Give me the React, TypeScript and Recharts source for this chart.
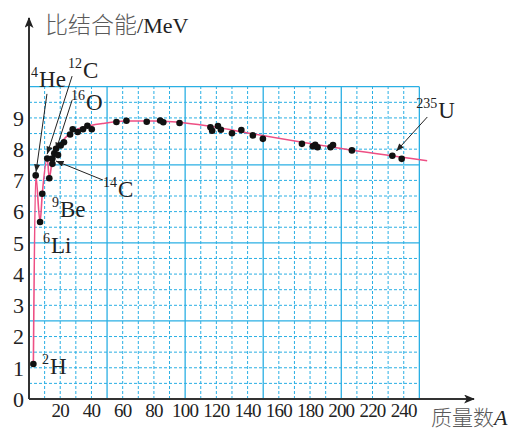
import React from "react";
import {
  ComposedChart,
  Line,
  Scatter,
  XAxis,
  YAxis,
  ReferenceLine,
  ReferenceDot,
} from "recharts";

// measured nuclei: mass number A, binding energy per nucleon (MeV)
const dotA = [
  2.8, 4.3, 7.1, 8.5, 11.7, 13.0, 15.0, 15.0, 16.2, 17.3, 18.6, 20.3, 22.4,
  26.3, 28.0, 31.2, 34.6, 37.4, 40.2, 56.0, 62.4, 75.4, 84.0, 86.0, 96.4,
  116.2, 117.3, 121.0, 122.9, 130.0, 136.0, 143.4, 149.8, 174.8, 181.8, 183.3,
  184.8, 193.1, 194.7, 206.8, 232.7, 238.7,
];
const dotE = [
  1.12, 7.16, 5.67, 6.57, 7.7, 7.07, 7.7, 7.53, 7.87, 8.01, 7.81, 8.12, 8.22,
  8.47, 8.64, 8.55, 8.64, 8.75, 8.64, 8.87, 8.91, 8.88, 8.92, 8.86, 8.84, 8.7,
  8.59, 8.74, 8.62, 8.51, 8.61, 8.44, 8.33, 8.17, 8.09, 8.14, 8.06, 8.06, 8.13,
  7.96, 7.79, 7.69,
];

// fitted curve
const curveA = [2.8, 4.3, 7.1, 8.5, 11.7, 13, 15, 17, 20, 26, 37, 47, 62, 80, 100, 120, 140, 200, 255];
const curveE = [1.12, 7.16, 5.67, 6.57, 7.7, 7.07, 7.7, 7.95, 8.17, 8.5, 8.73, 8.82, 8.9, 8.9, 8.84, 8.7, 8.52, 8.02, 7.63];

const xTicks = [20, 40, 60, 80, 100, 120, 140, 160, 180, 200, 220, 240];
const yTicks = [0, 1, 2, 3, 4, 5, 6, 7, 8, 9];

const gridX = Array.from({ length: 25 }, (_, i) => (i + 1) * 10);
const gridY = Array.from({ length: 20 }, (_, i) => (i + 1) * 0.5);

// nucleus labels: superscript, symbol, baseline-left anchor
const labels = [
  { sup: "4", sym: "He", a: 1.3, e: 10.0 },
  { sup: "12", sym: "C", a: 25, e: 10.28 },
  { sup: "16", sym: "O", a: 26.9, e: 9.25 },
  { sup: "14", sym: "C", a: 47.4, e: 6.47 },
  { sup: "9", sym: "Be", a: 14.7, e: 5.83 },
  { sup: "6", sym: "Li", a: 9, e: 4.67 },
  { sup: "2", sym: "H", a: 8.3, e: 0.8 },
  { sup: "235", sym: "U", a: 248, e: 9.0 },
];

const arrows = [
  { a1: 11.5, e1: 9.77, a2: 4.5, e2: 7.27 },
  { a1: 27.6, e1: 10.34, a2: 11.6, e2: 7.84 },
  { a1: 27.6, e1: 9.57, a2: 17.3, e2: 7.97 },
  { a1: 47.4, e1: 7.01, a2: 17.3, e2: 7.62 },
  { a1: 255.1, e1: 9.03, a2: 235.3, e2: 7.94 },
];

const points = dotA.map((a, i) => ({ a, e: dotE[i] }));
const curve = curveA.map((a, i) => ({ a, e: curveE[i] }));

const SERIF = "'Liberation Serif', 'Times New Roman', serif";
const CJK = "'Noto Sans CJK SC', sans-serif";
const GRID = "#2aafe4";
const PINK = "#ee4f84";

const isMajorX = (v: number) => v % 50 === 0;
const isMajorY = (v: number) => Math.abs(v / 2.5 - Math.round(v / 2.5)) < 1e-6;

const App = () => {
  return (
    <div style={{ position: "absolute", left: 0, top: 0, background: "#fff" }}>
      <ComposedChart
        width={517}
        height={432}
        margin={{ top: 18, right: 43, bottom: 0, left: 0 }}
      >
        <defs>
          <marker
            id="axisArrow"
            viewBox="0 0 12 10"
            refX="11"
            refY="5"
            markerWidth="12"
            markerHeight="9"
            markerUnits="userSpaceOnUse"
            orient="auto-start-reverse"
          >
            <path d="M0,0 L12,5 L0,10 L3,5 z" fill="#222" />
          </marker>
          <marker
            id="tip"
            viewBox="0 0 10 8"
            refX="10"
            refY="4"
            markerWidth="8"
            markerHeight="6"
            markerUnits="userSpaceOnUse"
            orient="auto"
          >
            <path d="M0,0 L10,4 L0,8 z" fill="#222" />
          </marker>
        </defs>

        <XAxis
          type="number"
          dataKey="a"
          domain={[0, 285]}
          ticks={xTicks}
          interval={0}
          allowDataOverflow
          height={33}
          tickSize={0}
          tickMargin={5}
          axisLine={{ stroke: "#333", strokeWidth: 2, markerEnd: "url(#axisArrow)" }}
          tick={{ fill: "#222", fontSize: 19, fontFamily: SERIF, letterSpacing: -0.8 }}
        />
        <YAxis
          type="number"
          dataKey="e"
          domain={[0, 12.2]}
          ticks={yTicks}
          interval={0}
          allowDataOverflow
          width={29}
          tickSize={0}
          tickMargin={5}
          axisLine={{ stroke: "#333", strokeWidth: 2, markerStart: "url(#axisArrow)" }}
          tick={{ fill: "#222", fontSize: 22, fontFamily: SERIF }}
        />

        {gridX.map((v) => (
          <ReferenceLine
            key={"gx" + v}
            segment={[
              { x: v, y: 0 },
              { x: v, y: 10 },
            ]}
            stroke={GRID}
            strokeWidth={isMajorX(v) ? 1.3 : 1}
            strokeDasharray={isMajorX(v) ? undefined : "3 2"}
            zIndex={-50}
          />
        ))}
        {gridY.map((v) => (
          <ReferenceLine
            key={"gy" + v}
            segment={[
              { x: 0, y: v },
              { x: 250, y: v },
            ]}
            stroke={GRID}
            strokeWidth={isMajorY(v) ? 1.3 : 1}
            strokeDasharray={isMajorY(v) ? undefined : "3 2"}
            zIndex={-50}
          />
        ))}

        <Line
          data={curve}
          dataKey="e"
          type="monotone"
          stroke={PINK}
          strokeWidth={1.6}
          dot={false}
          activeDot={false}
          isAnimationActive={false}
        />
        <Scatter
          data={points}
          dataKey="e"
          fill="#111"
          isAnimationActive={false}
          shape={(p: any) => <circle cx={p.cx} cy={p.cy} r={3.3} fill="#111" />}
        />

        {arrows.map((r, i) => (
          <ReferenceLine
            key={"ar" + i}
            segment={[
              { x: r.a1, y: r.e1 },
              { x: r.a2, y: r.e2 },
            ]}
            stroke="#222"
            strokeWidth={1}
            markerEnd="url(#tip)"
            ifOverflow="visible"
          />
        ))}

        {labels.map((l, i) => (
          <ReferenceDot
            key={"lb" + i}
            x={l.a}
            y={l.e}
            r={0}
            ifOverflow="visible"
            shape={(p: any) => (
              <text x={p.cx} y={p.cy} fontFamily={SERIF} fill="#222">
                <tspan fontSize={14} dy={-10}>
                  {l.sup}
                </tspan>
                <tspan fontSize={23} dy={10} dx={1}>
                  {l.sym}
                </tspan>
              </text>
            )}
          />
        ))}

        {/* axis titles */}
        <ReferenceDot
          x={10.3}
          y={11.73}
          r={0}
          ifOverflow="visible"
          shape={(p: any) => (
            <text x={p.cx} y={p.cy} fill="#5a5a5a">
              <tspan fontFamily={CJK} fontSize={23} fontWeight={300}>
                比结合能
              </tspan>
              <tspan fontFamily={SERIF} fontSize={22} fill="#222">
                /MeV
              </tspan>
            </text>
          )}
        />
        <ReferenceDot
          x={257.5}
          y={-0.84}
          r={0}
          ifOverflow="visible"
          shape={(p: any) => (
            <text x={p.cx} y={p.cy} fill="#5a5a5a">
              <tspan fontFamily={CJK} fontSize={21} fontWeight={300}>
                质量数
              </tspan>
              <tspan fontFamily={SERIF} fontSize={22} fontStyle="italic" fill="#222">
                A
              </tspan>
            </text>
          )}
        />
      </ComposedChart>
    </div>
  );
};

export default App;
